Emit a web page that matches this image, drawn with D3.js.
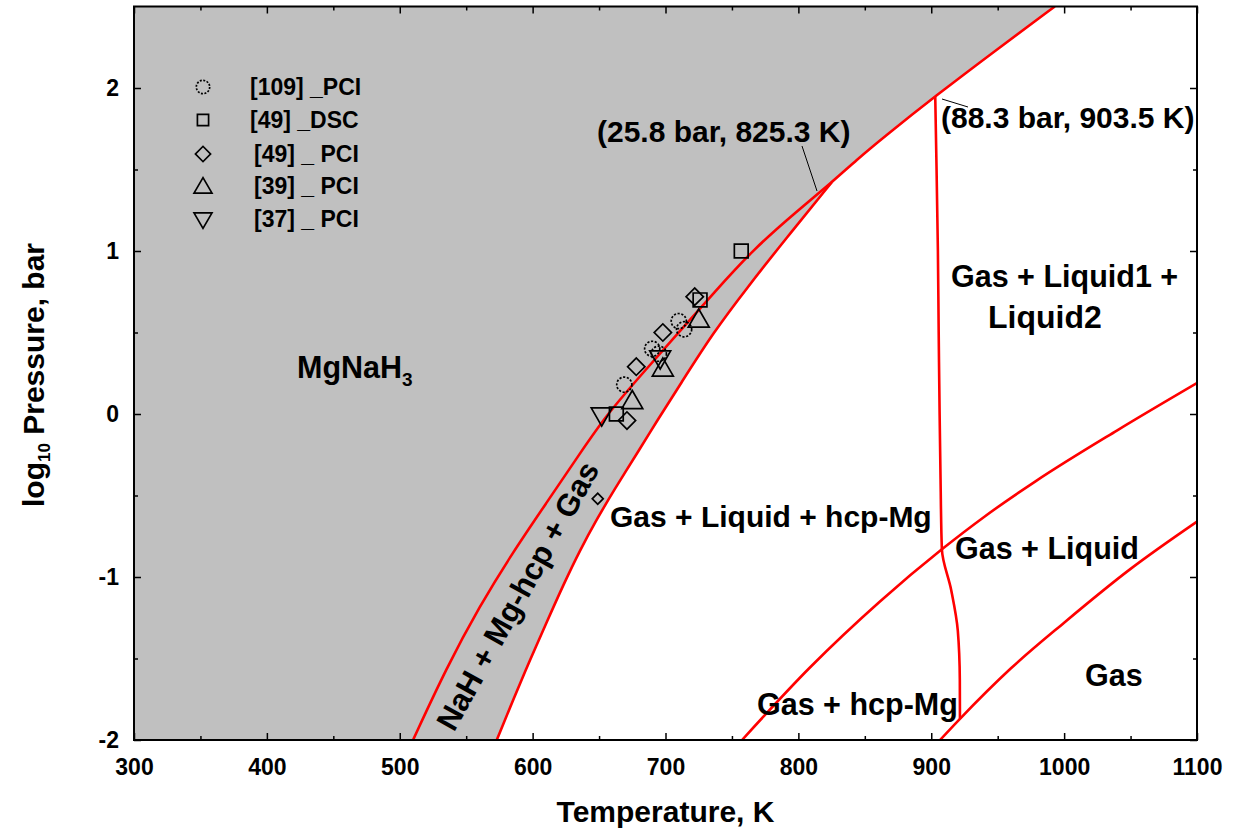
<!DOCTYPE html>
<html><head><meta charset="utf-8">
<script src="https://cdn.jsdelivr.net/npm/d3@7"></script>
<style>
body{margin:0;background:#fff}
text{font-family:"Liberation Sans",Arial,sans-serif;font-weight:bold;fill:#000}
</style></head><body>
<svg id="chart" width="1235" height="831"></svg>
<script>
// ---- tick values ----
const tempTicks = [300,400,500,600,700,800,900,1000,1100];
const tempMinor = [350,450,550,650,750,850,950,1050];
const logPTicks = [-2,-1,0,1,2];
const logPMinor = [-1.5,-0.5,0.5,1.5];

// ---- phase boundaries [T (K), log10 P (bar)] ----
const mgnah3Boundary = [[510,-2.0],[535,-1.56],[560,-1.18],[585,-0.85],[610,-0.55],[635,-0.25],[655,-0.01],[686,0.28],[711,0.51],[736,0.74],[766,1.01],[799,1.245],[825,1.42]];
const hydrideUpper = [[825,1.42],[844,1.56],[863,1.69],[903,1.95],[950,2.24],[993,2.5]];
const nahBoundary = [[573,-2.0],[586,-1.74],[598,-1.51],[611,-1.27],[623,-1.05],[636,-0.83],[648,-0.65],[661,-0.47],[681,-0.21],[693,-0.05],[711,0.18],[736,0.50],[761,0.77],[790,1.07],[825,1.42]];
const meltLine = [[921.6,-1.87],[921.5,-1.63],[920,-1.33],[915,-1.08],[908,-0.83],[907,-0.4],[906.3,0.0],[905.6,0.5],[905,1.0],[904,1.5],[903,1.95]];
const liquidBoundary = [[757.6,-2.0],[808.7,-1.555],[861.4,-1.15],[908,-0.83],[940,-0.63],[979,-0.41],[1040,-0.10],[1100,0.19]];
const gasBoundary = [[906.6,-2.0],[921.6,-1.87],[960,-1.56],[1000,-1.28],[1050,-0.95],[1100,-0.66]];

// ---- experimental points ----
const ref109PCI = [[710,0.57],[714,0.52],[690,0.40],[695,0.37],[669,0.18]];
const ref49DSC = [[757,1.00],[726,0.70],[663,0.00]];
const ref49PCI = [[722,0.72],[698,0.50],[678,0.29],[671,-0.04]];
const ref49PCIsmall = [[649,-0.52]];
const ref39PCI = [[725,0.57],[698,0.27],[675,0.07]];
const ref37PCI = [[652,0.00],[696,0.35]];

const legendLabels = ["[109] _PCI","[49] _DSC","[49] _ PCI","[39] _ PCI","[37] _ PCI"];

// ---- layout ----
const svg = d3.select("#chart");
const X0 = 134, X1 = 1197, Y0 = 740, Y1 = 6.5;
const x = d3.scaleLinear().domain([300,1100]).range([X0,X1]);
const y = d3.scaleLinear().domain([-2,2.5]).range([Y0,Y1]);

svg.append("defs").append("clipPath").attr("id","clip")
  .append("rect").attr("x",X0).attr("y",Y1).attr("width",X1-X0).attr("height",Y0-Y1);

const lineB = d3.line().x(d=>x(d[0])).y(d=>y(d[1])).curve(d3.curveBasis);
const lineT = d3.line().x(d=>x(d[0])).y(d=>y(d[1])).curve(d3.curveMonotoneX);
const lineP = d3.line().x(d=>x(d[0])).y(d=>y(d[1])).curve(d3.curveMonotoneY);

// gray region (MgNaH3 + NaH + Mg-hcp + Gas)
const boundary = nahBoundary.concat(hydrideUpper.slice(1));
const fillPath = lineB(boundary) + `L${x(300)},${y(2.5)}L${x(300)},${y(-2)}Z`;
const plot = svg.append("g").attr("clip-path","url(#clip)");
plot.append("path").attr("d",fillPath).attr("fill","#c0c0c0");

// red lines
const red = "#ff0000";
const redPath = d => plot.append("path").attr("d",d).attr("fill","none").attr("stroke",red).attr("stroke-width",2.6);
redPath(lineB(mgnah3Boundary.concat(hydrideUpper.slice(1))));
redPath(lineB(nahBoundary));
redPath(lineT(liquidBoundary));
redPath(lineT(gasBoundary));
redPath(lineP(meltLine));

// leader lines
svg.append("line").attr("x1",802).attr("y1",146).attr("x2",817).attr("y2",191).attr("stroke","#000").attr("stroke-width",1);
svg.append("line").attr("x1",942).attr("y1",99).attr("x2",968).attr("y2",107).attr("stroke","#000").attr("stroke-width",1);

// markers
function sym(type,size){ return d3.symbol().type(type).size(size)(); }
function drawPts(data, type, size, rot, dash){
  plot.selectAll(null).data(data).enter().append("path")
    .attr("d", sym(type,size))
    .attr("transform", d=>`translate(${x(d[0])},${y(d[1])}) rotate(${rot})`)
    .attr("fill","none").attr("stroke","#000").attr("stroke-width",1.7)
    .attr("stroke-dasharray", dash||null);
}
drawPts(ref109PCI, d3.symbolCircle, 180, 0, "2.2,1.6");
drawPts(ref49DSC, d3.symbolSquare, 190, 0);
drawPts(ref49PCI, d3.symbolSquare, 150, 45);
drawPts(ref49PCIsmall, d3.symbolSquare, 60, 45);
drawPts(ref39PCI, d3.symbolTriangle, 190, 0);
drawPts(ref37PCI, d3.symbolTriangle, 190, 180);

// legend
const legTypes = [[d3.symbolCircle,140,0,"2,1.5"],[d3.symbolSquare,125,0],[d3.symbolSquare,115,45],[d3.symbolTriangle,140,0],[d3.symbolTriangle,140,180]];
const legY = [87,120,154,188,218];
const legTextY = [95,128,162,194,227];
const legTextX = [250,250,254,254,254];
legendLabels.forEach((lab,i)=>{
  const t = legTypes[i];
  svg.append("path").attr("d",sym(t[0],t[1]))
    .attr("transform",`translate(203,${legY[i]}) rotate(${t[2]})`)
    .attr("fill","none").attr("stroke","#000").attr("stroke-width",1.7)
    .attr("stroke-dasharray",t[3]||null);
  svg.append("text").attr("x",legTextX[i]).attr("y",legTextY[i]).attr("font-size",23).text(lab);
});

// axes (ticks inward on all four sides)
const fmt = d=>String(d);
function clean(g){ g.select(".domain").remove(); g.selectAll(".tick line").attr("stroke","#000").attr("stroke-width",1.5); }
svg.append("g").attr("transform",`translate(0,${Y0})`)
  .call(d3.axisBottom(x).tickValues(tempMinor).tickSize(-4).tickFormat("")).call(clean);
svg.append("g").attr("transform",`translate(0,${Y0})`)
  .call(d3.axisBottom(x).tickValues(tempTicks).tickSize(-7).tickPadding(19).tickFormat(fmt)).call(clean);
svg.append("g").attr("transform",`translate(0,${Y1})`)
  .call(d3.axisTop(x).tickValues(tempTicks).tickSize(-7).tickFormat("")).call(clean);
svg.append("g").attr("transform",`translate(0,${Y1})`)
  .call(d3.axisTop(x).tickValues(tempMinor).tickSize(-4).tickFormat("")).call(clean);
svg.append("g").attr("transform",`translate(${X0},0)`)
  .call(d3.axisLeft(y).tickValues(logPMinor).tickSize(-4).tickFormat("")).call(clean);
svg.append("g").attr("transform",`translate(${X0},0)`)
  .call(d3.axisLeft(y).tickValues(logPTicks).tickSize(-7).tickPadding(15).tickFormat(fmt)).call(clean);
svg.append("g").attr("transform",`translate(${X1},0)`)
  .call(d3.axisRight(y).tickValues(logPTicks).tickSize(-7).tickFormat("")).call(clean);
svg.append("g").attr("transform",`translate(${X1},0)`)
  .call(d3.axisRight(y).tickValues(logPMinor).tickSize(-4).tickFormat("")).call(clean);
svg.selectAll(".tick text").attr("fill","#000").attr("font-size",23)
  .style("font-weight","bold").style("font-family",'"Liberation Sans",Arial,sans-serif');

svg.append("rect").attr("x",X0).attr("y",Y1).attr("width",X1-X0).attr("height",Y0-Y1)
  .attr("fill","none").attr("stroke","#000").attr("stroke-width",2);

// axis titles
svg.append("text").attr("x",(X0+X1)/2).attr("y",822).attr("text-anchor","middle").attr("font-size",30).text("Temperature, K");
const yt = svg.append("text").attr("transform","translate(44,375) rotate(-90)").attr("text-anchor","middle").attr("font-size",30);
yt.append("tspan").text("log");
yt.append("tspan").attr("font-size",17).attr("dy",6).text("10");
yt.append("tspan").attr("dy",-6).text(" Pressure, bar");

// region labels
const lab = (tx,ty,s,fs)=>svg.append("text").attr("x",tx).attr("y",ty).attr("font-size",fs||30.5).text(s);
const mg = svg.append("text").attr("x",297).attr("y",378).attr("font-size",30.5);
mg.append("tspan").text("MgNaH");
mg.append("tspan").attr("font-size",19).attr("dy",8).text("3");
lab(597,142,"(25.8 bar, 825.3 K)",30);
lab(941,128,"(88.3 bar, 903.5 K)",30);
lab(951,287,"Gas + Liquid1 +");
lab(988,328,"Liquid2",32);
lab(610,527,"Gas + Liquid + hcp-Mg",30);
lab(955,559,"Gas + Liquid");
lab(1085,686,"Gas");
lab(757,715,"Gas + hcp-Mg");
svg.append("text").attr("transform","translate(527,601) rotate(-61)").attr("text-anchor","middle")
  .attr("font-size",31).text("NaH + Mg-hcp + Gas");
</script>
</body></html>
